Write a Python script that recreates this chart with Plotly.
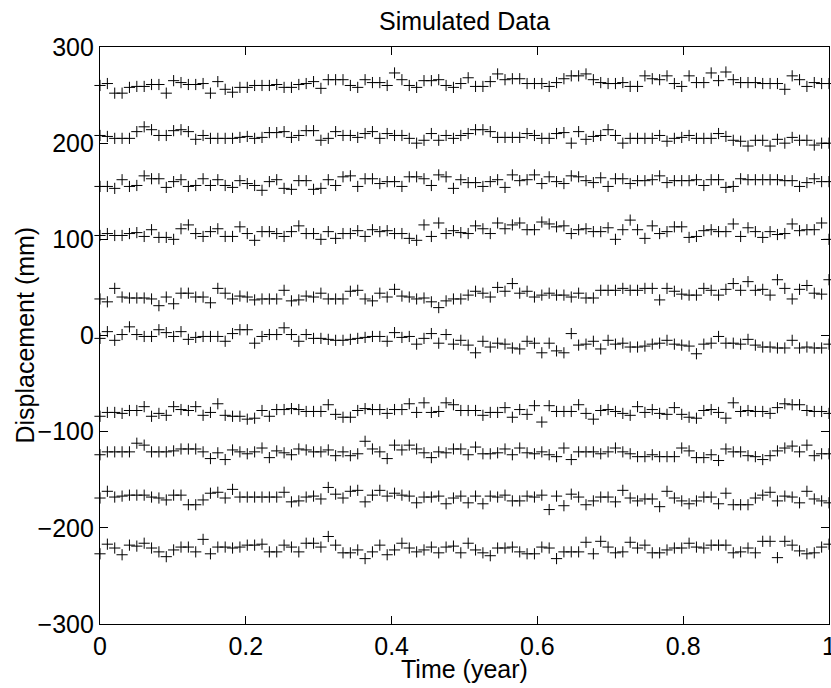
import numpy as np
import plotly.graph_objects as go

# ---- data ----
s1 = [260,262,252,252,258,259,259,261,261,252,265,263,261,261,262,252,264,256,253,258,258,260,260,260,261,258,258,261,262,264,257,
      266,266,266,260,258,266,263,263,260,273,266,260,258,265,265,266,260,258,262,268,259,259,264,272,266,267,267,262,262,262,259,263,267,
      270,270,272,266,263,262,262,263,259,259,270,267,266,270,262,259,270,263,263,273,265,274,266,263,263,263,262,262,262,256,270,266,259,263,262,262]
s2 = [208,207,205,205,205,212,217,214,208,208,213,214,212,204,208,205,205,205,205,206,207,205,206,211,211,212,206,208,213,213,203,
      205,212,208,208,206,210,212,205,210,208,208,205,200,203,210,203,208,205,208,210,214,214,212,206,206,206,206,210,208,205,205,210,211,
      200,212,204,207,208,214,208,200,205,205,205,205,208,202,205,206,208,205,205,205,210,207,203,202,197,203,203,197,204,200,206,203,203,198,200,200]
s3 = [155,155,153,162,155,156,166,163,163,154,160,162,155,156,163,156,162,156,154,161,158,156,151,160,162,153,152,161,161,152,153,
      162,156,165,166,155,163,163,158,160,160,155,165,165,163,156,167,165,153,162,159,159,155,160,162,154,167,161,162,167,158,165,160,158,
      166,165,161,159,164,155,163,163,158,161,161,162,166,159,161,161,161,162,156,162,162,154,155,163,162,162,162,162,162,161,161,155,159,163,160,160]
s4 = [104,106,104,104,106,107,103,110,102,102,100,111,115,106,103,108,111,103,103,113,106,99,108,108,106,103,108,114,106,106,100,
      108,101,106,106,109,103,110,108,109,106,106,101,99,115,103,117,106,109,107,106,114,111,106,117,111,115,117,110,110,118,116,113,114,
      106,110,111,108,108,112,100,110,120,110,101,114,106,108,113,113,102,103,109,110,108,108,116,103,112,108,102,108,105,106,116,109,110,110,117,100]
s5 = [38,35,49,40,39,39,39,38,31,40,33,44,44,40,40,34,49,44,38,41,40,37,38,38,38,47,36,37,41,40,44,
      38,38,38,46,47,38,36,44,40,48,41,40,38,39,35,29,36,38,38,42,46,44,40,50,46,54,44,46,40,42,44,42,42,
      40,44,39,39,47,47,47,49,47,47,49,49,37,49,46,43,42,42,49,47,42,48,54,47,56,47,48,42,58,49,38,48,52,44,43,58]
s6 = [-3,4,-5,1,9,1,-1,-1,6,3,-1,4,-4,-2,-1,-1,-1,-6,2,6,6,-8,-1,1,1,8,1,-6,1,-3,-3,
      -4,-5,-5,-4,-3,-2,-1,-1,-6,3,-2,-1,-9,-3,2,-8,1,-9,-5,-10,-18,-6,-12,-8,-9,-13,-14,-6,-8,-18,-8,-16,-18,
      2,-10,-9,-6,-14,-5,-9,-8,-12,-12,-11,-9,-8,-5,-9,-10,-11,-19,-9,-8,-1,-8,-8,-9,-4,-10,-12,-12,-13,-13,-5,-13,-12,-13,-13,-9]
s7 = [-84,-80,-80,-81,-78,-78,-74,-84,-81,-83,-74,-77,-78,-74,-83,-80,-71,-83,-84,-84,-87,-86,-78,-84,-77,-77,-76,-77,-79,-79,-79,
      -72,-82,-85,-85,-78,-76,-77,-77,-81,-77,-77,-71,-80,-70,-80,-79,-70,-72,-78,-78,-78,-83,-80,-80,-75,-85,-77,-82,-73,-90,-73,-79,-79,
      -79,-72,-81,-87,-78,-77,-79,-81,-83,-74,-80,-77,-81,-82,-75,-82,-85,-86,-78,-77,-80,-86,-70,-79,-78,-79,-79,-81,-75,-71,-72,-72,-78,-79,-79,-81]
s8 = [-124,-121,-121,-121,-121,-112,-114,-121,-121,-121,-120,-118,-118,-118,-121,-128,-122,-129,-119,-121,-123,-121,-117,-127,-120,-122,-124,-118,-119,-121,-121,
      -119,-125,-121,-125,-123,-110,-118,-121,-128,-114,-119,-114,-118,-122,-127,-121,-122,-118,-118,-124,-116,-123,-123,-122,-118,-124,-117,-122,-123,-121,-124,-126,-117,
      -129,-121,-121,-121,-123,-121,-117,-121,-123,-126,-126,-124,-126,-126,-126,-117,-120,-127,-127,-124,-130,-118,-121,-121,-125,-126,-129,-125,-120,-117,-115,-121,-114,-125,-123,-123]
s9 = [-169,-162,-168,-167,-166,-166,-166,-168,-169,-171,-166,-166,-176,-176,-171,-164,-163,-169,-160,-168,-168,-168,-168,-168,-168,-163,-173,-172,-168,-167,-170,
      -158,-165,-169,-162,-161,-173,-166,-161,-167,-164,-166,-167,-174,-168,-168,-167,-175,-169,-167,-174,-167,-175,-167,-168,-166,-172,-172,-167,-168,-166,-181,-167,-177,
      -165,-168,-176,-172,-168,-168,-173,-161,-169,-172,-170,-170,-178,-162,-169,-172,-175,-172,-168,-168,-175,-164,-176,-176,-176,-169,-166,-163,-172,-167,-168,-174,-162,-170,-172,-174]
s10 = [-227,-217,-221,-228,-218,-219,-216,-221,-225,-230,-223,-220,-220,-225,-212,-227,-220,-220,-221,-220,-218,-218,-217,-225,-225,-218,-220,-225,-216,-216,-220,
       -209,-218,-226,-226,-223,-232,-225,-218,-228,-223,-216,-221,-225,-223,-220,-226,-220,-219,-226,-216,-223,-226,-229,-221,-221,-220,-225,-227,-227,-220,-221,-232,-225,
       -225,-225,-215,-227,-214,-220,-226,-225,-215,-221,-218,-226,-226,-223,-221,-221,-216,-220,-221,-218,-218,-218,-226,-225,-221,-226,-214,-214,-231,-214,-218,-224,-227,-226,-220,-217]

series = [s1, s2, s3, s4, s5, s6, s7, s8, s9, s10]
x_ticks = [0, 0.2, 0.4, 0.6, 0.8, 1]
x_tick_text = ["0", "0.2", "0.4", "0.6", "0.8", "1"]
y_ticks = [-300, -200, -100, 0, 100, 200, 300]

FONT = "Liberation Sans, Arial, Helvetica, sans-serif"

fig = go.Figure()
for s in series:
    t = np.linspace(0, 1, len(s))
    fig.add_trace(go.Scatter(
        x=t, y=s, mode="markers",
        marker=dict(symbol="cross-thin", size=8, color="black",
                    line=dict(color="black", width=1)),
        showlegend=False, cliponaxis=False))

W, H = 831, 688
L, R, T, B = 100, 2, 47, 64

axis_common = dict(showgrid=False, zeroline=False, showline=True, linecolor="black",
                   linewidth=1.3, mirror="ticks", ticks="inside", ticklen=8,
                   tickwidth=1, tickcolor="black", ticklabeloverflow="allow",
                   automargin=False,
                   tickfont=dict(family=FONT, size=25, color="black"))

fig.update_layout(
    width=W, height=H,
    margin=dict(l=L, r=R, t=T, b=B, pad=0, autoexpand=False),
    paper_bgcolor="white", plot_bgcolor="white",
    xaxis=dict(range=[0, 1], tickvals=x_ticks, ticktext=x_tick_text, **axis_common),
    yaxis=dict(range=[-300, 300], tickvals=y_ticks, **axis_common),
    title=dict(text="Simulated Data", x=(L + (W - L - R) / 2) / W, xanchor="center",
               y=1 - 21 / H, yanchor="middle", yref="container",
               font=dict(family=FONT, size=25, color="black")),
    annotations=[
        dict(text="Time (year)", xref="paper", yref="paper", x=0.5, y=0,
             yshift=-45, yanchor="middle", xanchor="center", showarrow=False,
             font=dict(family=FONT, size=25, color="black")),
        dict(text="Displacement (mm)", xref="paper", yref="paper", x=0, y=0.5,
             xshift=-76, textangle=-90, xanchor="center", yanchor="middle",
             showarrow=False, font=dict(family=FONT, size=25, color="black")),
    ],
)

fig.write_html("out.html")
